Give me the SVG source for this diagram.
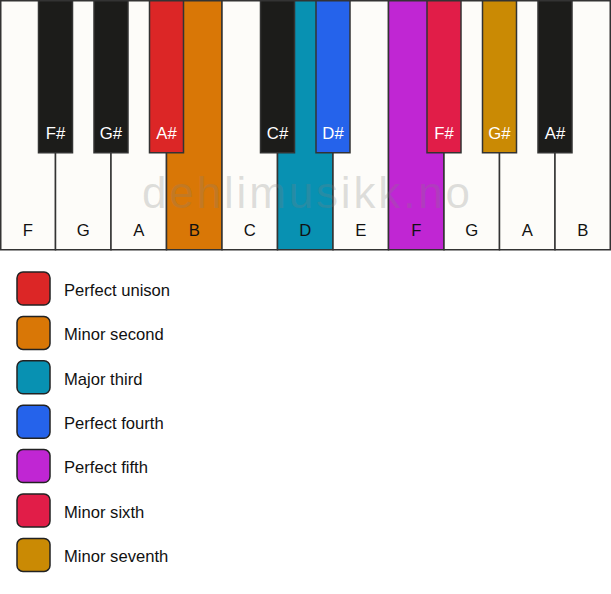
<svg xmlns="http://www.w3.org/2000/svg" width="611" height="594" viewBox="0 0 611 594">
<style>
.w{fill:#fdfcf9;stroke:#333;stroke-width:1.5}
.b{stroke:#333;stroke-width:1.5}
.kw{font-family:"Liberation Sans",Arial,sans-serif;font-size:16.7px;fill:#111;text-anchor:middle}
.kb{font-family:"Liberation Sans",Arial,sans-serif;font-size:16.7px;fill:#fff;text-anchor:middle}
.lg{stroke:#222;stroke-width:1.5}
.lt{font-family:"Liberation Sans",Arial,sans-serif;font-size:16.6px;fill:#111}
</style>
<rect width="611" height="594" fill="#ffffff"/>
<g id="white-keys">
<g id="w-F1"><rect class="w" x="0.75" y="0.75" width="54.75" height="249"/><text class="kw" x="27.75" y="236">F</text></g>
<g id="w-G1"><rect class="w" x="55.5" y="0.75" width="55.5" height="249"/><text class="kw" x="83.25" y="236">G</text></g>
<g id="w-A1"><rect class="w" x="111" y="0.75" width="55.5" height="249"/><text class="kw" x="138.75" y="236">A</text></g>
<g id="w-B1"><rect class="w" x="166.5" y="0.75" width="55.5" height="249" style="fill:#d97706"/><text class="kw" x="194.25" y="236">B</text></g>
<g id="w-C1"><rect class="w" x="222" y="0.75" width="55.5" height="249"/><text class="kw" x="249.75" y="236">C</text></g>
<g id="w-D1"><rect class="w" x="277.5" y="0.75" width="55.5" height="249" style="fill:#0891b2"/><text class="kw" x="305.25" y="236">D</text></g>
<g id="w-E1"><rect class="w" x="333" y="0.75" width="55.5" height="249"/><text class="kw" x="360.75" y="236">E</text></g>
<g id="w-F2"><rect class="w" x="388.5" y="0.75" width="55.5" height="249" style="fill:#c026d3"/><text class="kw" x="416.25" y="236">F</text></g>
<g id="w-G2"><rect class="w" x="444" y="0.75" width="55.5" height="249"/><text class="kw" x="471.75" y="236">G</text></g>
<g id="w-A2"><rect class="w" x="499.5" y="0.75" width="55.5" height="249"/><text class="kw" x="527.25" y="236">A</text></g>
<g id="w-B2"><rect class="w" x="555" y="0.75" width="55.25" height="249"/><text class="kw" x="582.75" y="236">B</text></g>
</g>
<text x="306" y="208" font-family="'Liberation Sans',Arial,sans-serif" font-size="44" text-anchor="middle" textLength="328" fill="#808080" fill-opacity="0.25">dehlimusikk.no</text>
<g id="black-keys">
<g id="b-Fs1"><rect class="b" x="38.5" y="0.75" width="34" height="152" fill="#1c1c1a"/><text class="kb" x="55.5" y="139">F#</text></g>
<g id="b-Gs1"><rect class="b" x="94" y="0.75" width="34" height="152" fill="#1c1c1a"/><text class="kb" x="111" y="139">G#</text></g>
<g id="b-As1"><rect class="b" x="149.5" y="0.75" width="34" height="152" fill="#dc2626"/><text class="kb" x="166.5" y="139">A#</text></g>
<g id="b-Cs1"><rect class="b" x="260.5" y="0.75" width="34" height="152" fill="#1c1c1a"/><text class="kb" x="277.5" y="139">C#</text></g>
<g id="b-Ds1"><rect class="b" x="316" y="0.75" width="34" height="152" fill="#2563eb"/><text class="kb" x="333" y="139">D#</text></g>
<g id="b-Fs2"><rect class="b" x="427" y="0.75" width="34" height="152" fill="#e11d48"/><text class="kb" x="444" y="139">F#</text></g>
<g id="b-Gs2"><rect class="b" x="482.5" y="0.75" width="34" height="152" fill="#ca8a04"/><text class="kb" x="499.5" y="139">G#</text></g>
<g id="b-As2"><rect class="b" x="538" y="0.75" width="34" height="152" fill="#1c1c1a"/><text class="kb" x="555" y="139">A#</text></g>
</g>
<g id="legend">
<g id="lg-1"><rect class="lg" x="17" y="272" width="33" height="33" rx="6" fill="#dc2626"/><text class="lt" x="64" y="295.7">Perfect unison</text></g>
<g id="lg-2"><rect class="lg" x="17" y="316.4" width="33" height="33" rx="6" fill="#d97706"/><text class="lt" x="64" y="340.1">Minor second</text></g>
<g id="lg-3"><rect class="lg" x="17" y="360.8" width="33" height="33" rx="6" fill="#0891b2"/><text class="lt" x="64" y="384.5">Major third</text></g>
<g id="lg-4"><rect class="lg" x="17" y="405.2" width="33" height="33" rx="6" fill="#2563eb"/><text class="lt" x="64" y="428.9">Perfect fourth</text></g>
<g id="lg-5"><rect class="lg" x="17" y="449.6" width="33" height="33" rx="6" fill="#c026d3"/><text class="lt" x="64" y="473.3">Perfect fifth</text></g>
<g id="lg-6"><rect class="lg" x="17" y="494" width="33" height="33" rx="6" fill="#e11d48"/><text class="lt" x="64" y="517.7">Minor sixth</text></g>
<g id="lg-7"><rect class="lg" x="17" y="538.4" width="33" height="33" rx="6" fill="#ca8a04"/><text class="lt" x="64" y="562.1">Minor seventh</text></g>
</g>
</svg>
